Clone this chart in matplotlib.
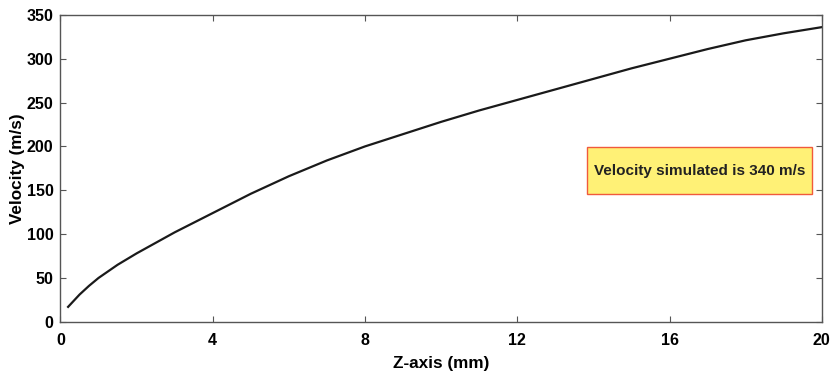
import numpy as np
import matplotlib.pyplot as plt
from matplotlib.patches import Rectangle

# values
z_mm = [0.2, 0.5, 0.75, 1, 1.5, 2, 2.5, 3, 3.5, 4, 4.5, 5, 5.5, 6, 6.5, 7, 8, 9,
        10, 11, 12, 13, 14, 15, 16, 17, 18, 19, 20]
velocity = [17, 31, 41, 50, 65, 78, 90, 102, 113, 124, 135, 146, 156, 166, 175, 184, 200, 214,
            228, 241, 253, 265, 277, 289, 300, 311, 321, 329, 336]
x_ticks = [0, 4, 8, 12, 16, 20]
y_ticks = [0, 50, 100, 150, 200, 250, 300, 350]
note = 'Velocity simulated is 340 m/s'

plt.rcParams['font.family'] = ['Liberation Sans', 'DejaVu Sans']
plt.rcParams['font.weight'] = 'bold'

fig = plt.figure(figsize=(8.32, 3.72), dpi=100)
ax = fig.add_axes([0.0727, 0.135, 0.915, 0.825])

ax.plot(z_mm, velocity, color='#1a1a1a', lw=1.6)

ax.set_xlim(0, 20)
ax.set_ylim(0, 350)
ax.set_xticks(x_ticks)
ax.set_yticks(y_ticks)
ax.tick_params(direction='in', length=4, width=0.8, color='#555555',
               top=True, right=True, labelsize=11.5)
ax.tick_params(axis='y', pad=5)
ax.tick_params(axis='x', pad=8)
for lbl in ax.get_xticklabels() + ax.get_yticklabels():
    lbl.set_fontweight('bold')
for s in ax.spines.values():
    s.set_color('#555555')
    s.set_linewidth(1.0)

ax.set_xlabel('Z-axis (mm)', fontsize=12.3, fontweight='bold', labelpad=6)
ax.set_ylabel('Velocity (m/s)', fontsize=12.3, fontweight='bold', labelpad=1)

ax.add_patch(Rectangle((13.84, 145.4), 5.91, 53.6, facecolor='#fff176',
                       edgecolor='#f05a3c', lw=1.0, zorder=3))
ax.text(16.8, 171.5, note, ha='center', va='center', fontsize=11,
        fontweight='bold', color='#222222', zorder=4)

fig.savefig('out.png', dpi=100)
